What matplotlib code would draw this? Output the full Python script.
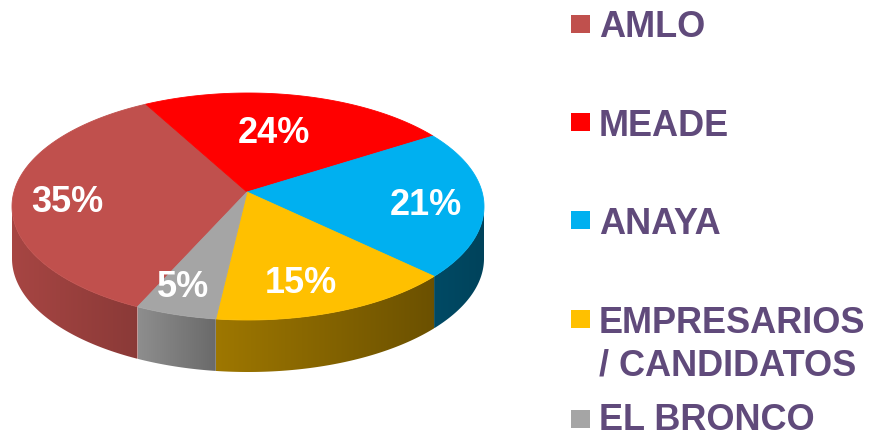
import numpy as np
import matplotlib
matplotlib.use("Agg")
import matplotlib.pyplot as plt
from matplotlib.patches import Polygon
from matplotlib.colors import to_rgb

# ---- data ----
labels = ["AMLO", "MEADE", "ANAYA", "EMPRESARIOS\n/ CANDIDATOS", "EL BRONCO"]
values = [35, 24, 21, 15, 5]
pct_labels = ["35%", "24%", "21%", "15%", "5%"]
colors = ["#C0504D", "#FF0000", "#00B0F0", "#FFC000", "#A5A5A5"]

# ---- style / geometry (pixels) ----
W, H = 873, 435
cx, cy, rx, ry = 248, 207.5, 236, 113.5
apex = (247, 193)
depth = 52
start_angle = 245  # degrees, slices run clockwise
persp = np.radians(6.9)  # front of the pie looks larger than the back
side_shade = [(0.87, 0.72), (0.6, 0.5), (0.42, 0.38), (0.62, 0.42), (0.86, 0.64)]
label_pos = [(67, 212), (274, 143), (426, 215), (301, 293), (183, 297)]
legend_y = [37, 136, 234, 333, 430]
legend_marker_y = [24.5, 123, 221, 320, 419.5]
text_color = "#604A7B"
FONT = "Liberation Sans"

fig = plt.figure(figsize=(W / 100, H / 100), dpi=100)
ax = fig.add_axes([0, 0, 1, 1])
ax.set_xlim(0, W)
ax.set_ylim(H, 0)
ax.axis("off")


def apparent(theta_deg):
    return theta_deg + np.degrees(persp * np.cos(np.radians(theta_deg)))


def ept(t_deg, dy=0.0):
    t = np.radians(t_deg)
    return cx + rx * np.cos(t), cy - ry * np.sin(t) + dy


total = float(sum(values))
angles = []
a = start_angle
for v in values:
    span = 360.0 * v / total
    angles.append((apparent(a - span), apparent(a)))  # (end, start)
    a -= span

# ---- side walls (front half: sin < 0) ----
for i, (e, s) in enumerate(angles):
    for k in (-1, 0, 1):
        lo = max(e, -180 + 360 * k)
        hi = min(s, 0 + 360 * k)
        if hi - lo <= 0.01:
            continue
        ts = np.linspace(lo, hi, 120)
        top = [ept(t) for t in ts]
        bot = [ept(t, depth) for t in ts[::-1]]
        verts = np.array(top + bot)
        poly = Polygon(verts, closed=True, facecolor="none", edgecolor="none")
        ax.add_patch(poly)
        x0, x1 = verts[:, 0].min(), verts[:, 0].max()
        y0, y1 = verts[:, 1].min(), verts[:, 1].max()
        base = np.array(to_rgb(colors[i]))
        f = np.linspace(side_shade[i][0], side_shade[i][1], 256)
        img = (base[None, :] * f[:, None])[None, :, :]
        img = np.repeat(img, 2, axis=0)
        im = ax.imshow(img, extent=(x0, x1, y1, y0), aspect="auto",
                       interpolation="bilinear", zorder=1)
        im.set_clip_path(poly)

# ---- top face ----
for i, (e, s) in enumerate(angles):
    ts = np.linspace(s, e, 200)
    verts = [apex] + [ept(t) for t in ts]
    ax.add_patch(Polygon(verts, closed=True, facecolor=colors[i],
                         edgecolor=colors[i], linewidth=0.6, zorder=2))

ax.set_xlim(0, W)
ax.set_ylim(H, 0)

# ---- percentage labels ----
for (x, y), t in zip(label_pos, pct_labels):
    ax.text(x, y, t, color="white", fontsize=26, fontweight="bold",
            family=FONT, ha="center", va="baseline", zorder=5)

# ---- legend ----
for i, lab in enumerate(labels):
    my = legend_marker_y[i]
    ax.add_patch(Polygon([(571, my - 9), (590, my - 9), (590, my + 9), (571, my + 9)],
                         closed=True, facecolor=colors[i], edgecolor="none", zorder=5))
    lines = lab.split("\n")
    for j, ln in enumerate(lines):
        ax.text(599, legend_y[i] + 43 * j, ln, color=text_color, fontsize=26,
                fontweight="bold", family=FONT, ha="left", va="baseline", zorder=5)

fig.savefig("out.png", dpi=100, facecolor="white")
